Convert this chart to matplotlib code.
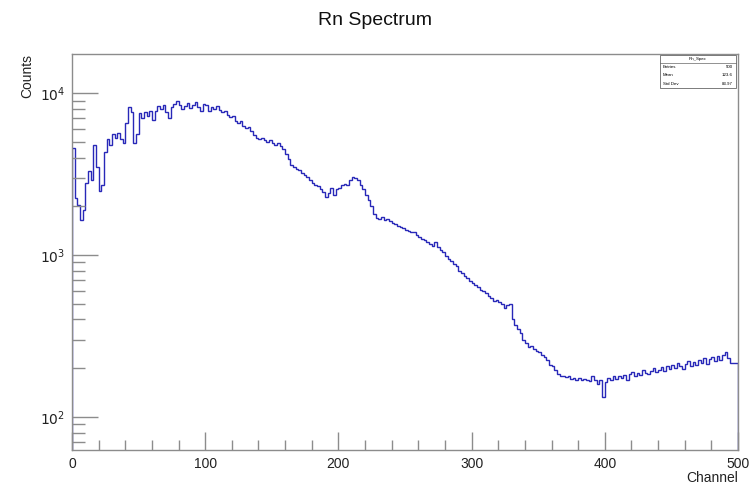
import numpy as np
import matplotlib.pyplot as plt
from matplotlib.ticker import LogLocator, MultipleLocator, NullFormatter, FixedLocator
from matplotlib.patches import Rectangle
from matplotlib.lines import Line2D

plt.rcParams['font.family'] = ['Liberation Sans', 'DejaVu Sans']

# Rn spectrum, counts per 2-channel bin over channels 0..500
edges = np.arange(0, 502, 2)
counts = np.array([
    4600, 2250, 2050, 1650, 1900, 2800, 3300, 2900, 4800, 3500,
    2500, 2700, 4300, 5200, 4800, 5600, 5300, 5700, 5200, 4900,
    6500, 8200, 7600, 4900, 5600, 7500, 7000, 7600, 7200, 7800,
    6800, 7700, 8300, 8000, 8400, 7600, 7000, 8200, 8600, 9000,
    8500, 8000, 8300, 8700, 8100, 8500, 8800, 8200, 7800, 8600,
    8400, 7700, 8200, 8000, 8300, 7900, 7600, 7700, 7300, 7100,
    7200, 6700, 6500, 6700, 6300, 6100, 6200, 5800, 5500, 5300,
    5200, 5300, 5100, 5000, 5100, 4950, 4800, 4900, 4700, 4500,
    4200, 3900, 3600, 3500, 3400, 3350, 3200, 3100, 3050, 2900,
    2800, 2700, 2680, 2550, 2450, 2280, 2400, 2600, 2350, 2550,
    2600, 2700, 2750, 2700, 2900, 3050, 3000, 2900, 2700, 2550,
    2350, 2200, 2000, 1800, 1700, 1680, 1720, 1650, 1680, 1620,
    1580, 1550, 1520, 1480, 1460, 1430, 1400, 1380, 1390, 1330,
    1300, 1250, 1230, 1200, 1170, 1130, 1200, 1120, 1080, 1040,
    990, 950, 920, 880, 850, 800, 770, 740, 720, 690,
    670, 650, 630, 610, 600, 580, 560, 545, 520, 530,
    510, 500, 470, 490, 500, 400, 370, 350, 330, 300,
    285, 270, 275, 262, 255, 250, 240, 235, 225, 210,
    205, 195, 185, 180, 178, 176, 180, 172, 175, 170,
    174, 168, 172, 170, 166, 180, 170, 160, 168, 132,
    165, 175, 170, 178, 172, 180, 175, 182, 170, 185,
    190, 178, 186, 182, 195, 188, 184, 192, 200, 190,
    195, 203, 192, 205, 198, 210, 200, 215, 205, 198,
    212, 220, 205, 218, 210, 225, 215, 230, 212, 228,
    235, 220, 238, 225, 240, 252, 232, 215, 215, 215,
])

entries = 500
centers = 0.5 * (edges[:-1] + edges[1:])
mean = np.sum(centers * counts) / np.sum(counts)
std = np.sqrt(np.sum(counts * (centers - mean) ** 2) / np.sum(counts))

fig = plt.figure(figsize=(7.5, 4.88), dpi=100)
ax = fig.add_axes([0.096, 0.078, 0.888, 0.811])

ax.stairs(counts, edges, color='#2828b8', lw=1.0)

ax.set_yscale('log')
ax.set_xlim(0, 500)
ax.set_ylim(62.5, 17400)

frame_col = '#8c8c8c'
for s in ax.spines.values():
    s.set_color(frame_col)
    s.set_linewidth(1.0)

ax.xaxis.set_major_locator(MultipleLocator(100))
ax.xaxis.set_minor_locator(MultipleLocator(20))
ax.yaxis.set_major_locator(FixedLocator([100, 1000, 10000]))
ax.yaxis.set_minor_locator(LogLocator(base=10, subs=np.arange(2, 10)))
ax.yaxis.set_minor_formatter(NullFormatter())
ax.set_yticklabels([r'$10^{2}$', r'$10^{3}$', r'$10^{4}$'])

ax.tick_params(axis='both', which='both', direction='in', color=frame_col,
               labelsize=10, labelcolor='#222222')
ax.tick_params(axis='x', which='major', length=13, width=1, pad=5)
ax.tick_params(axis='x', which='minor', length=7, width=1)
ax.tick_params(axis='y', which='major', length=19, width=1, pad=5)
ax.tick_params(axis='y', which='minor', length=9, width=1)

fig.text(0.5, 0.958, 'Rn Spectrum', ha='center', va='center', fontsize=14, color='#111111')
fig.text(0.037, 0.889, 'Counts', rotation=90, ha='center', va='top', fontsize=10, color='#222222')
fig.text(0.984, 0.006, 'Channel', ha='right', va='bottom', fontsize=10, color='#222222')

# statistics box
bx0, by0, bw, bh = 0.880, 0.820, 0.101, 0.068
fig.patches.append(Rectangle((bx0, by0), bw, bh, transform=fig.transFigure,
                             facecolor='white', edgecolor='#666666', lw=0.6))
row_h = bh / 4
fig.lines.append(Line2D([bx0, bx0 + bw], [by0 + 3 * row_h] * 2,
                        transform=fig.transFigure, color='#666666', lw=0.5))
fig.text(bx0 + bw / 2, by0 + 3.5 * row_h, 'Rn_Spec', ha='center', va='center', fontsize=3.2)
rows = [('Entries', f'{entries}'), ('Mean', f'{mean:.4g}'), ('Std Dev', f'{std:.4g}')]
for i, (lab, val) in enumerate(rows):
    yy = by0 + (2.5 - i) * row_h
    fig.text(bx0 + 0.004, yy, lab, ha='left', va='center', fontsize=3.2)
    fig.text(bx0 + bw - 0.004, yy, val, ha='right', va='center', fontsize=3.2)

fig.savefig('out.png', dpi=100)
